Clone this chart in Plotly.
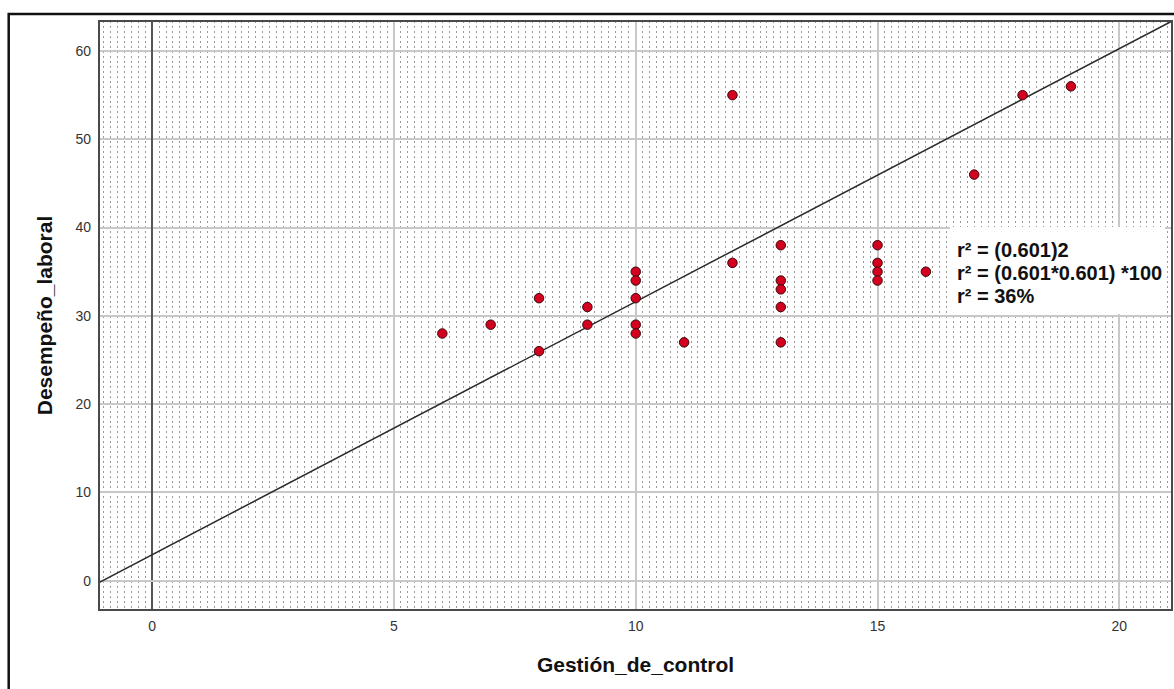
import plotly.graph_objects as go

# Observed scores
gestion_de_control = [6, 7, 8, 8, 9, 9, 10, 10, 10, 10, 10, 11, 12, 12,
                      13, 13, 13, 13, 13, 15, 15, 15, 15, 16, 17, 18, 19]
desempeno_laboral = [28, 29, 32, 26, 31, 29, 35, 34, 32, 29, 28, 27, 55, 36,
                     38, 34, 33, 31, 27, 38, 36, 35, 34, 35, 46, 55, 56]

# Linear fit (total)
fit_intercept = 2.95
fit_slope = 2.866

x_range = [-1.1, 21.09]
y_range = [-3.32, 63.4]
y_ticks = [0, 10, 20, 30, 40, 50, 60]

fit_lines = ["r² = (0.601)2", "r² = (0.601*0.601) *100", "r² = 36%"]

W, H = 1174, 689
ML, MR, MT, MB = 99, 2, 21, 79
PW, PH = W - ML - MR, H - MT - MB


def px_x(p):
    return (p - ML) / PW


def px_y(p):
    return (H - MB - p) / PH


FONT = "Liberation Sans, Arial, sans-serif"

fig = go.Figure()

fit_x = list(x_range)
fit_y = [fit_intercept + fit_slope * v for v in fit_x]
fig.add_trace(go.Scatter(
    x=fit_x, y=fit_y, mode="lines",
    line=dict(color="#2b2b2b", width=1.5),
    hoverinfo="skip", showlegend=False,
))

fig.add_trace(go.Scatter(
    x=gestion_de_control, y=desempeno_laboral, mode="markers",
    marker=dict(size=9.5, color="#d4001f", line=dict(color="#3a0a0a", width=1)),
    showlegend=False,
))

# fit text, one annotation per line
line_centres = [250.5, 273, 295.5]
annotations = [
    dict(xref="paper", yref="paper", x=px_x(955), y=px_y(yc),
         xanchor="left", yanchor="middle", align="left", showarrow=False,
         text=f"<b>{t}</b>", font=dict(size=20, color="#111", family=FONT))
    for t, yc in zip(fit_lines, line_centres)
]

fig.update_layout(
    width=W, height=H,
    margin=dict(l=ML, r=MR, t=MT, b=MB, autoexpand=False),
    paper_bgcolor="white", plot_bgcolor="white",
    font=dict(family=FONT, color="#222"),
    xaxis=dict(
        range=x_range, tick0=0, dtick=5, ticks="",
        showgrid=True, gridcolor="#c8c8c8", gridwidth=1.5,
        zeroline=True, zerolinecolor="#555555", zerolinewidth=2,
        showline=False, ticklabelstandoff=6,
        minor=dict(tick0=0, dtick=1 / 7, showgrid=True, gridcolor="#9a9a9a",
                   griddash="2px,3px", gridwidth=1, ticks=""),
        tickfont=dict(size=14, color="#333"),
        title=dict(text="<b>Gestión_de_control</b>",
                   font=dict(size=21, color="#111"), standoff=24),
    ),
    yaxis=dict(
        range=y_range, tickvals=y_ticks, ticks="",
        showgrid=True, gridcolor="#c8c8c8", gridwidth=1.5,
        zeroline=True, zerolinecolor="#c8c8c8", zerolinewidth=1.5,
        showline=False, ticklabelstandoff=7,
        tickfont=dict(size=14, color="#333"),
        title=dict(text="<b>Desempeño_laboral</b>",
                   font=dict(size=21, color="#111"), standoff=17),
    ),
    shapes=[
        # plot frame
        dict(type="rect", xref="paper", yref="paper", x0=0, x1=1, y0=0, y1=1,
             line=dict(color="#4a4a4a", width=2), layer="above"),
        # outer chart frame
        dict(type="rect", xref="paper", yref="paper",
             x0=px_x(8.7), x1=px_x(1200), y0=px_y(720), y1=px_y(14),
             line=dict(color="#111", width=2.5), layer="above"),
        # white panel behind the fit text
        dict(type="rect", xref="paper", yref="paper",
             x0=px_x(950), x1=px_x(1165), y0=px_y(314), y1=px_y(227),
             fillcolor="white", line=dict(width=0), layer="above"),
    ],
    annotations=annotations,
)

fig.write_html("out.html")
